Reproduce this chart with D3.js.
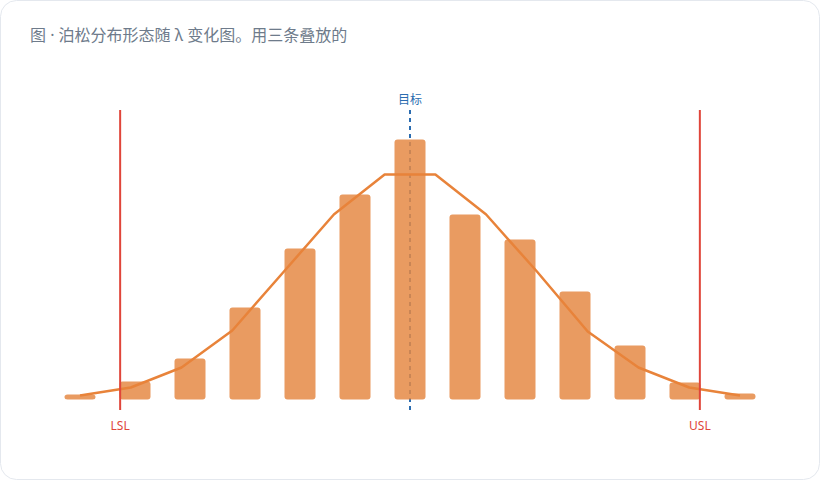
<!DOCTYPE html>
<html>
<head>
<meta charset="utf-8">
<title>泊松分布</title>
<script src="https://cdn.jsdelivr.net/npm/d3@7"></script>
<style>
  html, body { margin: 0; padding: 0; background: #ffffff; }
  svg { display: block; font-family: "Noto Sans", "Noto Sans CJK SC", sans-serif; }
</style>
</head>
<body>
<script>
// bar categories (k) and observed bar heights
var bins = ["0", "1", "2", "3", "4", "5", "6", "7", "8", "9", "10", "11", "12"];
var barValues = [5, 18, 41, 92, 151, 205, 260, 185, 160, 108, 54, 17, 6];

// fitted curve, 14 points across the same span
var curveValues = [4, 12, 32, 69, 127, 185, 225, 225, 185, 128, 68, 32, 12, 4];

// spec lines, in bar-index units
var specNames = ["LSL", "目标", "USL"];
var specValues = [0.73, 6, 11.27];

var title = "图 · 泊松分布形态随 λ 变化图。用三条叠放的";

var width = 820, height = 480;

var svg = d3.select("body").append("svg")
    .attr("width", width)
    .attr("height", height);

// card
svg.append("rect")
    .attr("x", 0.5).attr("y", 0.5)
    .attr("width", width - 1).attr("height", height - 1)
    .attr("rx", 16)
    .attr("fill", "#fff")
    .attr("stroke", "#e4e8ee");

svg.append("text")
    .attr("x", 30).attr("y", 41)
    .attr("font-size", 16)
    .attr("fill", "#6e7b8b")
    .text(title);

var x = d3.scaleBand()
    .domain(bins)
    .range([52.5, 767.5])
    .paddingInner(24 / 55)
    .paddingOuter(12 / 55);

var y = d3.scaleLinear()
    .domain([0, 300])
    .range([399.5, 99.5]);

// continuous x across bar centers
var xc = d3.scaleLinear()
    .domain([0, bins.length - 1])
    .range([x(bins[0]) + x.bandwidth() / 2, x(bins[bins.length - 1]) + x.bandwidth() / 2]);

var xl = d3.scaleLinear()
    .domain([0, curveValues.length - 1])
    .range(xc.range());

// target line sits behind the translucent bars
var specColor = ["#e0463a", "#2b6cb0", "#e0463a"];

svg.append("line")
    .attr("x1", xc(specValues[1])).attr("x2", xc(specValues[1]))
    .attr("y1", 110).attr("y2", 410)
    .attr("stroke", specColor[1])
    .attr("stroke-width", 2)
    .attr("stroke-dasharray", "4,4");

svg.append("g").selectAll("rect")
    .data(barValues)
    .enter().append("rect")
      .attr("x", function(d, i) { return x(bins[i]); })
      .attr("y", function(d) { return y(d); })
      .attr("width", x.bandwidth())
      .attr("height", function(d) { return y(0) - y(d); })
      .attr("rx", 3)
      .attr("fill", "#e58a45")
      .attr("fill-opacity", 0.85);

var line = d3.line()
    .x(function(d, i) { return xl(i); })
    .y(function(d) { return y(d); });

svg.append("path")
    .datum(curveValues)
    .attr("d", line)
    .attr("fill", "none")
    .attr("stroke", "#e8833a")
    .attr("stroke-width", 2.5)
    .attr("stroke-linejoin", "round");

// LSL / USL
[0, 2].forEach(function(i) {
  svg.append("line")
      .attr("x1", xc(specValues[i])).attr("x2", xc(specValues[i]))
      .attr("y1", 110).attr("y2", 410)
      .attr("stroke", specColor[i])
      .attr("stroke-width", 2);
  svg.append("text")
      .attr("x", xc(specValues[i])).attr("y", 430)
      .attr("text-anchor", "middle")
      .attr("font-size", 12)
      .attr("fill", specColor[i])
      .text(specNames[i]);
});

svg.append("text")
    .attr("x", xc(specValues[1])).attr("y", 104)
    .attr("text-anchor", "middle")
    .attr("font-size", 12)
    .attr("fill", specColor[1])
    .text(specNames[1]);
</script>
</body>
</html>
